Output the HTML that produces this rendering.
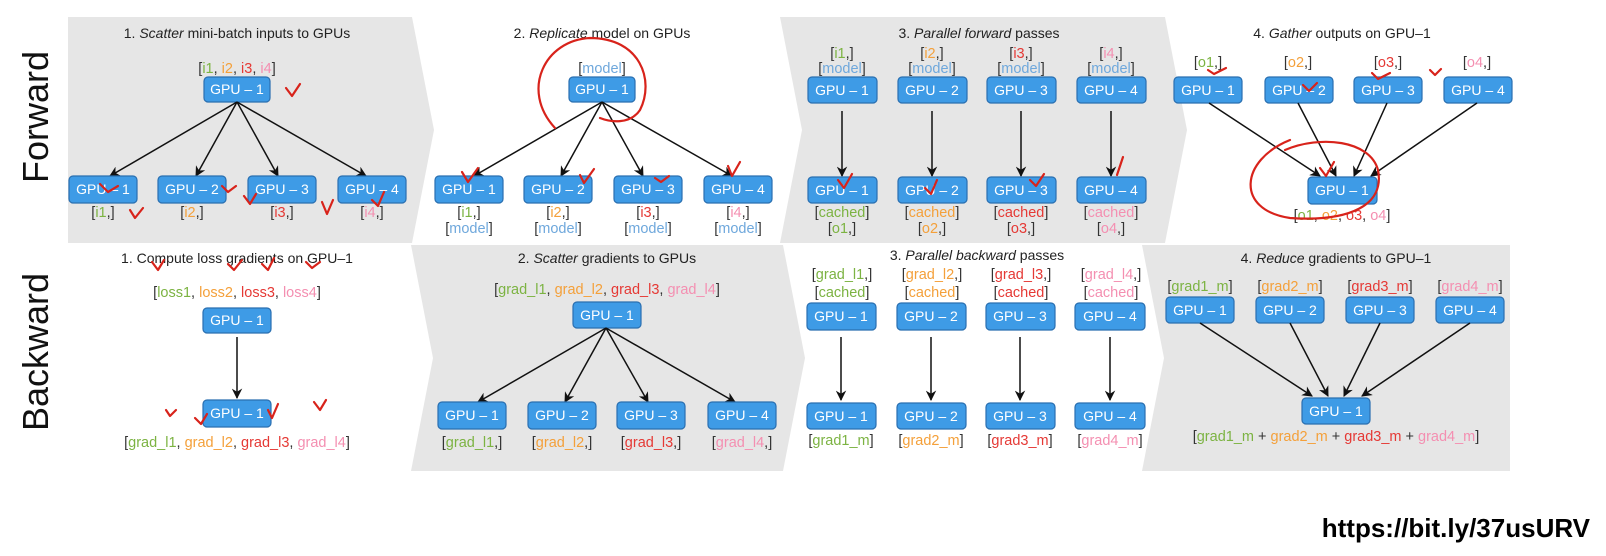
<!DOCTYPE html>
<html><head><meta charset="utf-8"><style>
html,body{margin:0;padding:0;background:#fff;}
svg{display:block;font-family:"Liberation Sans",Arial,sans-serif;}
.t{font-size:14px;fill:#222;text-anchor:middle;}
.l{font-size:14.5px;fill:#333;text-anchor:middle;}
.bx{fill:#3e9be6;stroke:#2a6fb0;stroke-width:1.2;}
.bt{font-size:14px;fill:#fff;text-anchor:middle;}
.a{stroke:#111;stroke-width:1.5;fill:none;marker-end:url(#ah);}
.g{fill:#7cb342}.o{fill:#f4a03a}.r{fill:#e53935}.p{fill:#f48fb1}.m{fill:#6fa8dc}
.red{stroke:#d8231b;stroke-width:2.2;fill:none;stroke-linecap:round;stroke-linejoin:round;}
</style></head><body>
<svg width="1606" height="556" viewBox="0 0 1606 556" xmlns="http://www.w3.org/2000/svg">
<defs><marker id="ah" viewBox="0 0 10 10" refX="9" refY="5" markerWidth="7" markerHeight="7" orient="auto"><path d="M0,0 L10,5 L0,10 L3,5 z" fill="#111"/></marker></defs>
<polygon points="68,17 412,17 434,130 412,243 68,243" fill="#e6e6e6"/>
<polygon points="780,17 1165,17 1187,130 1165,243 780,243 802,130" fill="#e6e6e6"/>
<polygon points="411,245 783,245 805,358 783,471 411,471 433,358" fill="#e6e6e6"/>
<polygon points="1142,245 1510,245 1510,471 1142,471 1164,358" fill="#e6e6e6"/>
<text transform="translate(48,117) rotate(-90)" font-size="36" text-anchor="middle" fill="#111">Forward</text>
<text transform="translate(48,352) rotate(-90)" font-size="36" text-anchor="middle" fill="#111">Backward</text>

<text class="t" x="237" y="38">1. <tspan font-style="italic">Scatter</tspan> mini-batch inputs to GPUs</text>
<text class="l" x="237" y="73">[<tspan class="g">i1</tspan>, <tspan class="o">i2</tspan>, <tspan class="r">i3</tspan>, <tspan class="p">i4</tspan>]</text>
<rect class="bx" x="204" y="77" width="66" height="25" rx="4"/><text class="bt" x="237" y="94">GPU – 1</text>
<line class="a" x1="237" y1="102" x2="110" y2="176"/><line class="a" x1="237" y1="102" x2="196" y2="176"/>
<line class="a" x1="237" y1="102" x2="278" y2="176"/><line class="a" x1="237" y1="102" x2="366" y2="176"/>
<rect class="bx" x="69" y="176" width="68" height="27" rx="4"/><text class="bt" x="103" y="194">GPU – 1</text>
<rect class="bx" x="158" y="176" width="68" height="27" rx="4"/><text class="bt" x="192" y="194">GPU – 2</text>
<rect class="bx" x="248" y="176" width="68" height="27" rx="4"/><text class="bt" x="282" y="194">GPU – 3</text>
<rect class="bx" x="338" y="176" width="68" height="27" rx="4"/><text class="bt" x="372" y="194">GPU – 4</text>
<text class="l" x="103" y="217">[<tspan class="g">i1</tspan>,]</text><text class="l" x="192" y="217">[<tspan class="o">i2</tspan>,]</text>
<text class="l" x="282" y="217">[<tspan class="r">i3</tspan>,]</text><text class="l" x="372" y="217">[<tspan class="p">i4</tspan>,]</text>

<text class="t" x="602" y="38">2. <tspan font-style="italic">Replicate</tspan> model on GPUs</text>
<text class="l" x="602" y="73">[<tspan class="m">model</tspan>]</text>
<rect class="bx" x="569" y="77" width="66" height="25" rx="4"/><text class="bt" x="602" y="94">GPU – 1</text>
<line class="a" x1="602" y1="102" x2="474" y2="176"/><line class="a" x1="602" y1="102" x2="561" y2="176"/>
<line class="a" x1="602" y1="102" x2="643" y2="176"/><line class="a" x1="602" y1="102" x2="732" y2="176"/>
<rect class="bx" x="435" y="176" width="68" height="27" rx="4"/><text class="bt" x="469" y="194">GPU – 1</text>
<rect class="bx" x="524" y="176" width="68" height="27" rx="4"/><text class="bt" x="558" y="194">GPU – 2</text>
<rect class="bx" x="614" y="176" width="68" height="27" rx="4"/><text class="bt" x="648" y="194">GPU – 3</text>
<rect class="bx" x="704" y="176" width="68" height="27" rx="4"/><text class="bt" x="738" y="194">GPU – 4</text>
<text class="l" x="469" y="217">[<tspan class="g">i1</tspan>,]</text><text class="l" x="558" y="217">[<tspan class="o">i2</tspan>,]</text>
<text class="l" x="648" y="217">[<tspan class="r">i3</tspan>,]</text><text class="l" x="738" y="217">[<tspan class="p">i4</tspan>,]</text>
<text class="l" x="469" y="233">[<tspan class="m">model</tspan>]</text><text class="l" x="558" y="233">[<tspan class="m">model</tspan>]</text>
<text class="l" x="648" y="233">[<tspan class="m">model</tspan>]</text><text class="l" x="738" y="233">[<tspan class="m">model</tspan>]</text>

<text class="t" x="979" y="38">3. <tspan font-style="italic">Parallel forward</tspan> passes</text>
<text class="l" x="842" y="58">[<tspan class="g">i1</tspan>,]</text><text class="l" x="932" y="58">[<tspan class="o">i2</tspan>,]</text>
<text class="l" x="1021" y="58">[<tspan class="r">i3</tspan>,]</text><text class="l" x="1111" y="58">[<tspan class="p">i4</tspan>,]</text>
<text class="l" x="842" y="73">[<tspan class="m">model</tspan>]</text><text class="l" x="932" y="73">[<tspan class="m">model</tspan>]</text>
<text class="l" x="1021" y="73">[<tspan class="m">model</tspan>]</text><text class="l" x="1111" y="73">[<tspan class="m">model</tspan>]</text>
<rect class="bx" x="808" y="77" width="69" height="26" rx="4"/><text class="bt" x="842" y="95">GPU – 1</text>
<rect class="bx" x="898" y="77" width="69" height="26" rx="4"/><text class="bt" x="932" y="95">GPU – 2</text>
<rect class="bx" x="987" y="77" width="69" height="26" rx="4"/><text class="bt" x="1021" y="95">GPU – 3</text>
<rect class="bx" x="1077" y="77" width="69" height="26" rx="4"/><text class="bt" x="1111" y="95">GPU – 4</text>
<line class="a" x1="842" y1="111" x2="842" y2="176"/><line class="a" x1="932" y1="111" x2="932" y2="176"/>
<line class="a" x1="1021" y1="111" x2="1021" y2="176"/><line class="a" x1="1111" y1="111" x2="1111" y2="176"/>
<rect class="bx" x="808" y="177" width="69" height="26" rx="4"/><text class="bt" x="842" y="195">GPU – 1</text>
<rect class="bx" x="898" y="177" width="69" height="26" rx="4"/><text class="bt" x="932" y="195">GPU – 2</text>
<rect class="bx" x="987" y="177" width="69" height="26" rx="4"/><text class="bt" x="1021" y="195">GPU – 3</text>
<rect class="bx" x="1077" y="177" width="69" height="26" rx="4"/><text class="bt" x="1111" y="195">GPU – 4</text>
<text class="l" x="842" y="217">[<tspan class="g">cached</tspan>]</text><text class="l" x="932" y="217">[<tspan class="o">cached</tspan>]</text>
<text class="l" x="1021" y="217">[<tspan class="r">cached</tspan>]</text><text class="l" x="1111" y="217">[<tspan class="p">cached</tspan>]</text>
<text class="l" x="842" y="233">[<tspan class="g">o1</tspan>,]</text><text class="l" x="932" y="233">[<tspan class="o">o2</tspan>,]</text>
<text class="l" x="1021" y="233">[<tspan class="r">o3</tspan>,]</text><text class="l" x="1111" y="233">[<tspan class="p">o4</tspan>,]</text>

<text class="t" x="1342" y="38">4. <tspan font-style="italic">Gather</tspan> outputs on GPU–1</text>
<text class="l" x="1208" y="67">[<tspan class="g">o1</tspan>,]</text><text class="l" x="1298" y="67">[<tspan class="o">o2</tspan>,]</text>
<text class="l" x="1388" y="67">[<tspan class="r">o3</tspan>,]</text><text class="l" x="1477" y="67">[<tspan class="p">o4</tspan>,]</text>
<rect class="bx" x="1174" y="77" width="68" height="26" rx="4"/><text class="bt" x="1208" y="95">GPU – 1</text>
<rect class="bx" x="1265" y="77" width="68" height="26" rx="4"/><text class="bt" x="1299" y="95">GPU – 2</text>
<rect class="bx" x="1354" y="77" width="68" height="26" rx="4"/><text class="bt" x="1388" y="95">GPU – 3</text>
<rect class="bx" x="1444" y="77" width="68" height="26" rx="4"/><text class="bt" x="1478" y="95">GPU – 4</text>
<line class="a" x1="1209" y1="103" x2="1320" y2="176"/><line class="a" x1="1298" y1="103" x2="1336" y2="176"/>
<line class="a" x1="1387" y1="103" x2="1354" y2="176"/><line class="a" x1="1477" y1="103" x2="1371" y2="176"/>
<rect class="bx" x="1308" y="177" width="69" height="27" rx="4"/><text class="bt" x="1342" y="195">GPU – 1</text>
<text class="l" x="1342" y="220">[<tspan class="g">o1</tspan>, <tspan class="o">o2</tspan>, <tspan class="r">o3</tspan>, <tspan class="p">o4</tspan>]</text>

<text class="t" x="237" y="263">1. Compute loss gradients on GPU–1</text>
<text class="l" x="237" y="297">[<tspan class="g">loss1</tspan>, <tspan class="o">loss2</tspan>, <tspan class="r">loss3</tspan>, <tspan class="p">loss4</tspan>]</text>
<rect class="bx" x="203" y="308" width="68" height="25" rx="4"/><text class="bt" x="237" y="325">GPU – 1</text>
<line class="a" x1="237" y1="337" x2="237" y2="398"/>
<rect class="bx" x="203" y="400" width="68" height="27" rx="4"/><text class="bt" x="237" y="418">GPU – 1</text>
<text class="l" x="237" y="447">[<tspan class="g">grad_l1</tspan>, <tspan class="o">grad_l2</tspan>, <tspan class="r">grad_l3</tspan>, <tspan class="p">grad_l4</tspan>]</text>

<text class="t" x="607" y="263">2. <tspan font-style="italic">Scatter</tspan> gradients to GPUs</text>
<text class="l" x="607" y="294">[<tspan class="g">grad_l1</tspan>, <tspan class="o">grad_l2</tspan>, <tspan class="r">grad_l3</tspan>, <tspan class="p">grad_l4</tspan>]</text>
<rect class="bx" x="573" y="302" width="68" height="26" rx="4"/><text class="bt" x="607" y="320">GPU – 1</text>
<line class="a" x1="606" y1="328" x2="478" y2="402"/><line class="a" x1="606" y1="328" x2="565" y2="402"/>
<line class="a" x1="606" y1="328" x2="648" y2="402"/><line class="a" x1="606" y1="328" x2="735" y2="402"/>
<rect class="bx" x="438" y="402" width="68" height="27" rx="4"/><text class="bt" x="472" y="420">GPU – 1</text>
<rect class="bx" x="528" y="402" width="68" height="27" rx="4"/><text class="bt" x="562" y="420">GPU – 2</text>
<rect class="bx" x="617" y="402" width="68" height="27" rx="4"/><text class="bt" x="651" y="420">GPU – 3</text>
<rect class="bx" x="708" y="402" width="68" height="27" rx="4"/><text class="bt" x="742" y="420">GPU – 4</text>
<text class="l" x="472" y="447">[<tspan class="g">grad_l1</tspan>,]</text><text class="l" x="562" y="447">[<tspan class="o">grad_l2</tspan>,]</text>
<text class="l" x="651" y="447">[<tspan class="r">grad_l3</tspan>,]</text><text class="l" x="742" y="447">[<tspan class="p">grad_l4</tspan>,]</text>

<text class="t" x="977" y="260">3. <tspan font-style="italic">Parallel backward</tspan> passes</text>
<text class="l" x="842" y="279">[<tspan class="g">grad_l1</tspan>,]</text><text class="l" x="932" y="279">[<tspan class="o">grad_l2</tspan>,]</text>
<text class="l" x="1021" y="279">[<tspan class="r">grad_l3</tspan>,]</text><text class="l" x="1111" y="279">[<tspan class="p">grad_l4</tspan>,]</text>
<text class="l" x="842" y="297">[<tspan class="g">cached</tspan>]</text><text class="l" x="932" y="297">[<tspan class="o">cached</tspan>]</text>
<text class="l" x="1021" y="297">[<tspan class="r">cached</tspan>]</text><text class="l" x="1111" y="297">[<tspan class="p">cached</tspan>]</text>
<rect class="bx" x="807" y="303" width="69" height="27" rx="4"/><text class="bt" x="841" y="321">GPU – 1</text>
<rect class="bx" x="897" y="303" width="69" height="27" rx="4"/><text class="bt" x="931" y="321">GPU – 2</text>
<rect class="bx" x="986" y="303" width="69" height="27" rx="4"/><text class="bt" x="1020" y="321">GPU – 3</text>
<rect class="bx" x="1075" y="303" width="70" height="27" rx="4"/><text class="bt" x="1110" y="321">GPU – 4</text>
<line class="a" x1="841" y1="337" x2="841" y2="400"/><line class="a" x1="931" y1="337" x2="931" y2="400"/>
<line class="a" x1="1020" y1="337" x2="1020" y2="400"/><line class="a" x1="1110" y1="337" x2="1110" y2="400"/>
<rect class="bx" x="807" y="403" width="69" height="26" rx="4"/><text class="bt" x="841" y="421">GPU – 1</text>
<rect class="bx" x="897" y="403" width="69" height="26" rx="4"/><text class="bt" x="931" y="421">GPU – 2</text>
<rect class="bx" x="986" y="403" width="69" height="26" rx="4"/><text class="bt" x="1020" y="421">GPU – 3</text>
<rect class="bx" x="1075" y="403" width="70" height="26" rx="4"/><text class="bt" x="1110" y="421">GPU – 4</text>
<text class="l" x="841" y="445">[<tspan class="g">grad1_m</tspan>]</text><text class="l" x="931" y="445">[<tspan class="o">grad2_m</tspan>]</text>
<text class="l" x="1020" y="445">[<tspan class="r">grad3_m</tspan>]</text><text class="l" x="1110" y="445">[<tspan class="p">grad4_m</tspan>]</text>

<text class="t" x="1336" y="263">4. <tspan font-style="italic">Reduce</tspan> gradients to GPU–1</text>
<text class="l" x="1200" y="291">[<tspan class="g">grad1_m</tspan>]</text><text class="l" x="1290" y="291">[<tspan class="o">grad2_m</tspan>]</text>
<text class="l" x="1380" y="291">[<tspan class="r">grad3_m</tspan>]</text><text class="l" x="1470" y="291">[<tspan class="p">grad4_m</tspan>]</text>
<rect class="bx" x="1166" y="297" width="68" height="26" rx="4"/><text class="bt" x="1200" y="315">GPU – 1</text>
<rect class="bx" x="1256" y="297" width="68" height="26" rx="4"/><text class="bt" x="1290" y="315">GPU – 2</text>
<rect class="bx" x="1346" y="297" width="68" height="26" rx="4"/><text class="bt" x="1380" y="315">GPU – 3</text>
<rect class="bx" x="1436" y="297" width="68" height="26" rx="4"/><text class="bt" x="1470" y="315">GPU – 4</text>
<line class="a" x1="1200" y1="323" x2="1312" y2="396"/><line class="a" x1="1290" y1="323" x2="1328" y2="396"/>
<line class="a" x1="1380" y1="323" x2="1344" y2="396"/><line class="a" x1="1470" y1="323" x2="1362" y2="396"/>
<rect class="bx" x="1302" y="398" width="68" height="26" rx="4"/><text class="bt" x="1336" y="416">GPU – 1</text>
<text class="l" x="1336" y="441">[<tspan class="g">grad1_m</tspan> + <tspan class="o">grad2_m</tspan> + <tspan class="r">grad3_m</tspan> + <tspan class="p">grad4_m</tspan>]</text>

<text x="1590" y="537" font-size="26" font-weight="bold" text-anchor="end" fill="#000">https://bit.ly/37usURV</text>

<path class="red" d="M555,128 C520,90 545,40 590,38 C640,38 655,80 640,110 C630,125 610,122 600,118"/>
<path class="red" d="M1290,140 C1240,160 1235,210 1290,218 C1350,222 1385,205 1378,170 C1370,140 1320,135 1285,150"/>
<path class="red" d="M286,88 l6,8 l8,-12"/><path class="red" d="M100,184 l8,8 l10,-6"/>
<path class="red" d="M130,210 l5,8 l8,-10"/><path class="red" d="M222,186 l6,6 l8,-6"/>
<path class="red" d="M244,196 l6,8 l6,-10"/><path class="red" d="M322,202 l5,12 l6,-14"/>
<path class="red" d="M372,200 l6,6 l6,-14"/><path class="red" d="M462,172 l6,10 l10,-14"/>
<path class="red" d="M580,175 l4,8 l10,-14"/><path class="red" d="M655,178 l6,4 l8,-6"/>
<path class="red" d="M728,166 l4,10 l8,-14"/><path class="red" d="M838,180 l6,8 l8,-14"/>
<path class="red" d="M925,188 l6,6 l6,-14"/><path class="red" d="M1030,180 l6,6 l8,-12"/>
<path class="red" d="M1117,175 l6,-18"/><path class="red" d="M1208,70 l6,4 l12,-6"/>
<path class="red" d="M1303,85 l6,6 l8,-8"/><path class="red" d="M1372,73 l6,6 l12,-6"/>
<path class="red" d="M1430,70 l5,5 l6,-6"/><path class="red" d="M1320,168 l6,8 l8,-14"/>
<path class="red" d="M152,262 l6,8 l6,-10"/><path class="red" d="M228,264 l6,6 l8,-10"/>
<path class="red" d="M262,264 l6,6 l6,-12"/><path class="red" d="M306,262 l6,6 l8,-6"/>
<path class="red" d="M166,410 l4,6 l6,-6"/><path class="red" d="M195,418 l6,6 l6,-10"/>
<path class="red" d="M268,410 l4,8 l6,-14"/><path class="red" d="M314,402 l6,8 l6,-10"/>
</svg>
</body></html>
